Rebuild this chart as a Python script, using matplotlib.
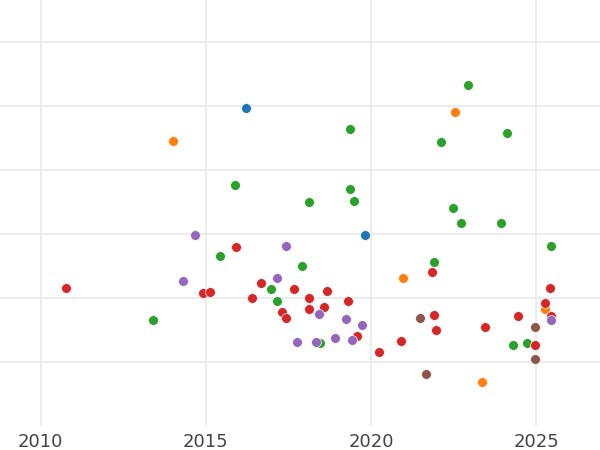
import matplotlib
matplotlib.use("Agg")
import matplotlib.pyplot as plt

# Data (year, value) per category
blue_x = [2016.20, 2019.83]
blue_y = [4.96, 2.974]

orange_x = [2014.00, 2022.55, 2020.96, 2025.27, 2023.36]
orange_y = [4.455, 4.898, 2.312, 1.827, 0.689]

green_x = [2015.89, 2022.93, 2019.36, 2022.12, 2024.11, 2019.36, 2018.11, 2019.49,
           2022.48, 2022.71, 2023.93, 2025.44, 2015.43, 2021.90, 2017.90, 2016.97,
           2017.14, 2013.41, 2018.45, 2024.29, 2024.72]
green_y = [3.760, 5.319, 4.638, 4.440, 4.580, 3.698, 3.495, 3.515,
           3.395, 3.172, 3.172, 2.814, 2.653, 2.553, 2.491, 2.133,
           1.952, 1.649, 1.291, 1.270, 1.291]

red_x = [2015.91, 2021.83, 2016.66, 2010.76, 2017.68, 2018.67, 2025.42, 2014.90,
         2015.13, 2016.40, 2018.11, 2019.31, 2025.27, 2018.12, 2018.57, 2017.29,
         2017.42, 2025.45, 2021.89, 2024.44, 2023.45, 2021.97, 2019.58, 2020.90,
         2024.95, 2020.23]
red_y = [2.793, 2.408, 2.232, 2.154, 2.133, 2.112, 2.148, 2.070,
         2.092, 1.992, 1.992, 1.952, 1.914, 1.832, 1.852, 1.774,
         1.691, 1.718, 1.733, 1.712, 1.551, 1.493, 1.411, 1.333,
         1.270, 1.157]

purple_x = [2014.66, 2017.42, 2017.16, 2014.30, 2018.43, 2025.44, 2019.24, 2019.73,
            2018.92, 2019.42, 2017.75, 2018.32]
purple_y = [2.974, 2.814, 2.315, 2.257, 1.754, 1.656, 1.671, 1.571,
            1.375, 1.348, 1.313, 1.313]

brown_x = [2021.49, 2024.96, 2024.96, 2021.67]
brown_y = [1.691, 1.551, 1.052, 0.807]

xticks = [2010, 2015, 2020, 2025]
ygrid = [1, 2, 3, 4, 5, 6]

series = [
    (blue_x, blue_y, "#1f77b4"),
    (orange_x, orange_y, "#ff7f0e"),
    (green_x, green_y, "#2ca02c"),
    (red_x, red_y, "#d62728"),
    (purple_x, purple_y, "#9467bd"),
    (brown_x, brown_y, "#8c564b"),
]

fig = plt.figure(figsize=(6, 4.5), dpi=100)
ax = fig.add_axes([0, 24 / 450, 1, 426 / 450])

for xs, ys, c in series:
    ax.scatter(xs, ys, s=50, color=c, edgecolor="white", linewidth=0.5, zorder=3)

ax.set_xlim(2010 - 40.7 / 33.04, 2010 + (600 - 40.7) / 33.04)
ax.set_ylim(0, 426.5 / 64.15)
ax.set_xticks(xticks)
ax.set_xticklabels([str(t) for t in xticks])
ax.set_yticks(ygrid)
ax.set_yticklabels([])
ax.grid(True, color="#ebebeb", linewidth=1.3, zorder=0)
ax.set_axisbelow(True)
ax.tick_params(axis="both", length=0, pad=5, labelsize=13, labelcolor="#444444")
for sp in ax.spines.values():
    sp.set_visible(False)

fig.savefig("out.png", dpi=100)
